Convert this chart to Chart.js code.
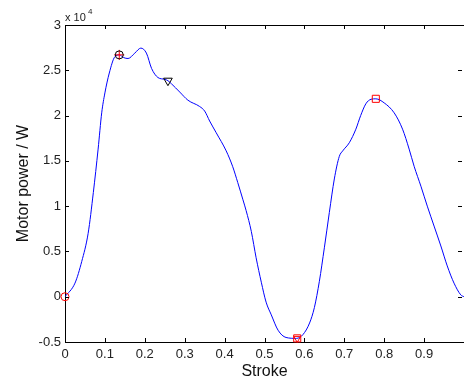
<!DOCTYPE html>
<html>
<head>
<meta charset="utf-8">
<script src="https://cdn.jsdelivr.net/npm/chart.js@4/dist/chart.umd.min.js"></script>
<style>
html,body{margin:0;padding:0;background:#fff;}
#wrap{position:relative;width:464px;height:380px;}
</style>
</head>
<body>
<div id="wrap"><canvas id="c" width="464" height="380"></canvas></div>
<script>
// Stroke positions (fraction) and motor power (W)
const strokeX = [0,0.025,0.042,0.058,0.071,0.083,0.092,0.10,0.111,0.125,0.136,0.147,0.158,0.175,0.19,0.204,0.217,0.233,0.25,0.258,0.267,0.2875,0.308,0.3375,0.35,0.3625,0.379,0.404,0.42,0.433,0.446,0.454,0.467,0.479,0.492,0.504,0.517,0.534,0.554,0.58,0.596,0.613,0.625,0.6375,0.65,0.6625,0.675,0.6875,0.696,0.7125,0.729,0.741,0.754,0.767,0.779,0.8,0.825,0.846,0.8625,0.875,0.892,0.908,0.925,0.942,0.958,0.975,0.992,1.0];
const powerW = [0,1500,3900,7000,11500,16300,20300,22500,24700,26500,26700,26400,26300,26900,27450,26900,25200,24200,24000,23850,23500,22600,21700,21000,20500,19400,18100,16100,14400,12600,10700,9500,7200,4300,1600,-600,-2000,-3700,-4500,-4600,-4200,-2900,-1200,1700,5400,9300,13000,15500,16100,17000,18500,20000,21300,21800,21850,21400,20300,18500,16300,14400,12200,10000,7800,5600,3400,1500,200,0];

// Marker points
const startPt = [{x:0, y:0}];
const maxPt = [{x:0.136, y:26700}];
const triPt = [{x:0.258, y:23850}];
const minPt = [{x:0.582, y:-4600}];
const peak2Pt = [{x:0.779, y:21850}];

const xTicks = [0,0.1,0.2,0.3,0.4,0.5,0.6,0.7,0.8,0.9];
const yTicks = [-5000,0,5000,10000,15000,20000,25000,30000];

const curve = strokeX.map((x,i)=>({x:x, y:powerW[i]}));

const FONT = "'Liberation Sans', Arial, sans-serif";

const framePlugin = {
  id:'frame',
  afterDraw(chart){
    const {ctx, chartArea:a, scales:{x, y}} = chart;
    ctx.save();
    ctx.strokeStyle = '#000';
    ctx.lineWidth = 1;
    // top border
    ctx.beginPath();
    ctx.moveTo(a.left, a.top+0.5);
    ctx.lineTo(a.right, a.top+0.5);
    ctx.stroke();
    const L = 4;
    ctx.beginPath();
    xTicks.forEach(v=>{
      const px = Math.round(x.getPixelForValue(v))+0.5;
      ctx.moveTo(px, a.bottom); ctx.lineTo(px, a.bottom-L);
      ctx.moveTo(px, a.top); ctx.lineTo(px, a.top+L);
    });
    yTicks.forEach(v=>{
      const py = Math.round(y.getPixelForValue(v))+0.5;
      ctx.moveTo(a.left, py); ctx.lineTo(a.left+L, py);
      ctx.moveTo(a.right-2, py); ctx.lineTo(a.right-2-L, py);
    });
    ctx.stroke();
    // exponent label
    ctx.fillStyle = '#222';
    ctx.textBaseline = 'alphabetic';
    ctx.font = "11px " + FONT;
    ctx.fillText('x 10', a.left, 21);
    ctx.font = "8px " + FONT;
    ctx.fillText('4', a.left+23, 14);
    ctx.restore();
  }
};

new Chart(document.getElementById('c'), {
  type:'line',
  data:{
    datasets:[
      {data:curve, borderColor:'#0000ff', borderWidth:1, pointRadius:0, cubicInterpolationMode:'monotone', fill:false, order:5},
      {type:'scatter', data:startPt, pointStyle:'circle', pointRadius:4, borderColor:'#ff0000', backgroundColor:'rgba(0,0,0,0)', borderWidth:1, clip:false},
      {type:'scatter', data:maxPt, pointStyle:'circle', pointRadius:4, borderColor:'#000000', backgroundColor:'rgba(0,0,0,0)', borderWidth:1, clip:false},
      {type:'scatter', data:maxPt, pointStyle:'cross', pointRadius:5, borderColor:'#ff0000', backgroundColor:'rgba(0,0,0,0)', borderWidth:1, clip:false},
      {type:'scatter', data:triPt, pointStyle:'triangle', rotation:180, pointRadius:5, borderColor:'#000000', backgroundColor:'rgba(0,0,0,0)', borderWidth:1, clip:false},
      {type:'scatter', data:minPt, pointStyle:'rect', pointRadius:5, borderColor:'#ff0000', backgroundColor:'rgba(0,0,0,0)', borderWidth:1, clip:false},
      {type:'scatter', data:minPt, pointStyle:'triangle', rotation:180, pointRadius:4, borderColor:'#ff0000', backgroundColor:'rgba(0,0,0,0)', borderWidth:1, clip:false},
      {type:'scatter', data:peak2Pt, pointStyle:'rect', pointRadius:5, borderColor:'#ff0000', backgroundColor:'rgba(0,0,0,0)', borderWidth:1, clip:false}
    ]
  },
  options:{
    responsive:false,
    animation:false,
    events:[],
    layout:{autoPadding:false, padding:{top:25, right:0, left:0, bottom:0}},
    plugins:{legend:{display:false}, tooltip:{enabled:false}},
    scales:{
      x:{
        type:'linear', min:0, max:1,
        afterFit(s){ s.height = 38; s.paddingLeft = 0; s.paddingRight = 0; },
        afterBuildTicks(s){ s.ticks = xTicks.map(v=>({value:v})); },
        grid:{display:false, drawTicks:false},
        border:{display:true, color:'#000', width:1},
        ticks:{padding:5, color:'#222', font:{family:FONT, size:13}, maxRotation:0, autoSkip:false,
          callback:(v)=> String(Math.round(v*10)/10)},
        title:{display:true, text:'Stroke', color:'#111', font:{family:FONT, size:16, lineHeight:1}, padding:{top:0,bottom:0}}
      },
      y:{
        type:'linear', min:-5000, max:30000,
        afterFit(s){ s.width = 65; s.paddingTop = 0; s.paddingBottom = 0; },
        afterBuildTicks(s){ s.ticks = yTicks.map(v=>({value:v})); },
        grid:{display:false, drawTicks:false},
        border:{display:true, color:'#000', width:1},
        ticks:{padding:4, color:'#222', font:{family:FONT, size:13}, autoSkip:false,
          callback:(v)=> String(v/10000)},
        title:{display:true, text:'Motor power / W', color:'#111', font:{family:FONT, size:16, lineHeight:1}, padding:{top:16,bottom:0}}
      }
    }
  },
  plugins:[framePlugin]
});
</script>
</body>
</html>
